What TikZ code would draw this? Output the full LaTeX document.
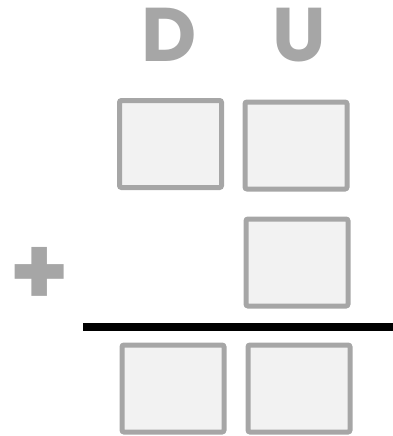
\documentclass[tikz,border=0pt]{standalone}
\usepackage{fontspec}
\setmainfont{Poppins}
\usetikzlibrary{positioning}
\definecolor{boxgray}{HTML}{A6A6A6}
\definecolor{boxfill}{HTML}{F2F2F2}
\tikzset{
  digitbox/.style={draw=boxgray, fill=boxfill, line width=5pt, rounded corners=2pt,
    minimum width=102pt, minimum height=87pt, inner sep=0pt},
  colhead/.style={text=boxgray, font=\fontsize{76}{80}\selectfont\bfseries, anchor=base, inner sep=0pt},
}
\begin{document}
\begin{tikzpicture}[x=1pt, y=-1pt]
    \useasboundingbox (0,0) rectangle (393,436);

    % En-tetes des colonnes
    \node[colhead] (hD) at (169,62) {D};
    \node[colhead] (hU) at (299,62) {U};

    % Premier nombre
    \node[digitbox] (aD) at (170.5,144) {};
    \node[digitbox] (aU) at (296,145.5) {};

    % Second nombre
    \node[digitbox] (bU) at (297,262.5) {};
    \node[text=boxgray, font=\fontsize{96}{100}\selectfont\bfseries, inner sep=0pt] (plus) at (39.5,276) {+};

    % Trait de l'addition
    \coordinate (barL) at (83,326.5);
    \coordinate (barR) at (393,326.5);
    \draw[line width=8pt] (barL) -- (barR);

    % Resultat
    \node[digitbox] (rD) at (173,388.5) {};
    \node[digitbox] (rU) at (299,388.5) {};
\end{tikzpicture}
\end{document}
